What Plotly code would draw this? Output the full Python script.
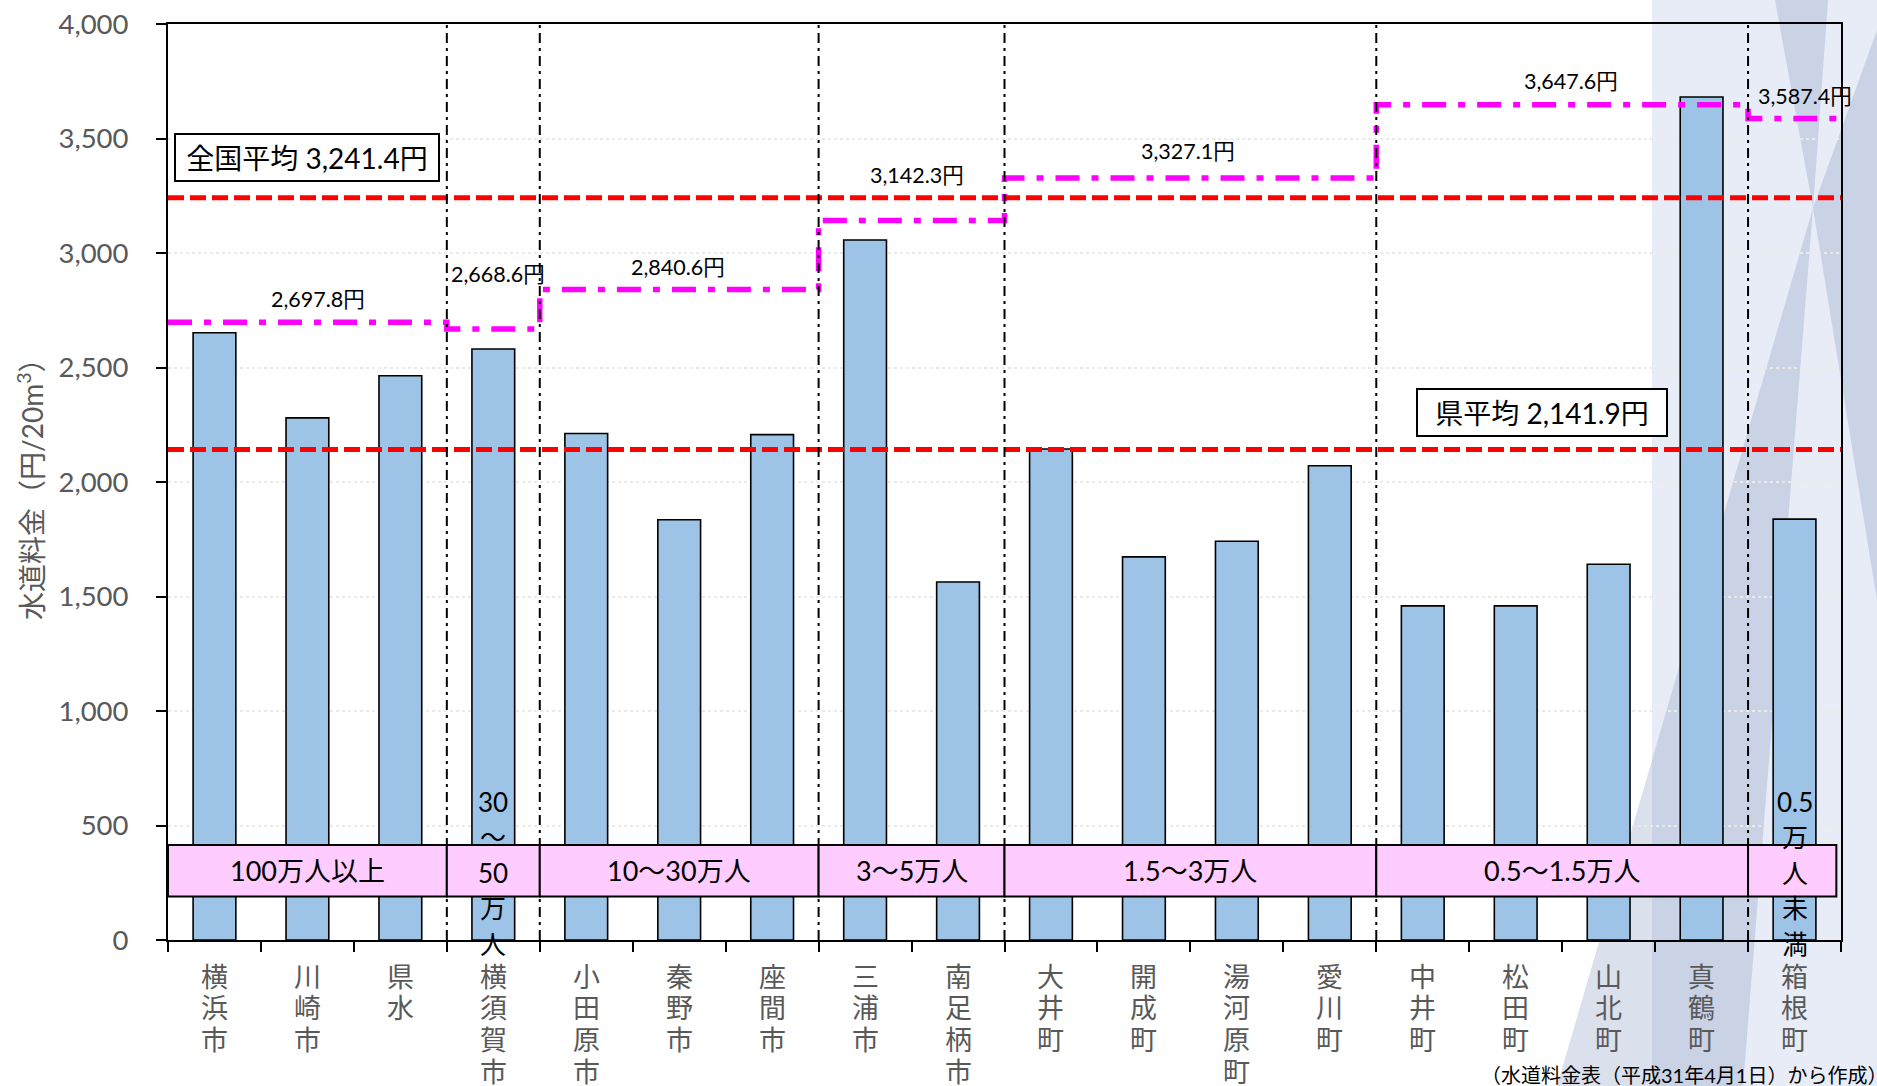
import re
import plotly.graph_objects as go

# ---- data -------------------------------------------------------------
municipalities = ["横浜市", "川崎市", "県水", "横須賀市", "小田原市", "秦野市", "座間市",
                  "三浦市", "南足柄市", "大井町", "開成町", "湯河原町", "愛川町",
                  "中井町", "松田町", "山北町", "真鶴町", "箱根町"]
water_fee = [2652, 2280, 2464, 2581, 2212, 1835, 2207,
             3057, 1563, 2144, 1673, 1741, 2071,
             1459, 1459, 1641, 3681, 1838]

pop_groups = ["100万人以上", "30～50万人", "10～30万人", "3～5万人",
              "1.5～3万人", "0.5～1.5万人", "0.5万人未満"]
group_sizes = [3, 1, 3, 2, 4, 4, 1]
group_avg = [2697.8, 2668.6, 2840.6, 3142.3, 3327.1, 3647.6, 3587.4]

national_avg = 3241.4
pref_avg = 2141.9

y_ticks = [0, 500, 1000, 1500, 2000, 2500, 3000, 3500, 4000]

# ---- geometry helpers -------------------------------------------------
W, H = 1877, 1086
ML, MR, MT, MB = 168, 36, 24, 146
PW, PH = W - ML - MR, H - MT - MB
FONT = "Lato, 'Noto Sans CJK JP', sans-serif"
GRAY = "#595959"


def px(x):
    return (x - ML) / PW


def py(y):
    return (H - MB - y) / PH


n = len(municipalities)
x_pos = list(range(n))

# group boundaries on the numeric x axis
bounds = [-0.5]
for s in group_sizes:
    bounds.append(bounds[-1] + s)

fig = go.Figure()

# bars
fig.add_trace(go.Bar(
    x=x_pos, y=water_fee,
    marker=dict(color="#9DC3E6", line=dict(color="black", width=1.6)),
    width=0.46, showlegend=False, hoverinfo="skip",
))

# group averages as a stepped dash-dot line
step_x = bounds[:]
step_y = group_avg + [group_avg[-1]]
fig.add_trace(go.Scatter(
    x=step_x, y=step_y, mode="lines", line_shape="hv",
    line=dict(color="#FF00FF", width=5.5, dash="24px,12px,7px,12px"),
    showlegend=False, hoverinfo="skip",
))

# national / prefectural averages
for val in (national_avg, pref_avg):
    fig.add_trace(go.Scatter(
        x=[-0.5, 17.5], y=[val, val], mode="lines",
        line=dict(color="#FF0000", width=5, dash="16px,6px"),
        showlegend=False, hoverinfo="skip",
    ))

shapes = []

# slide background decoration on the right
def poly(points, color):
    d = "M " + " L ".join(f"{px(a):.5f},{py(b):.5f}" for a, b in points) + " Z"
    return dict(type="path", xref="paper", yref="paper", path=d,
                fillcolor=color, line=dict(width=0), layer="below")

shapes.append(poly([(1652, 0), (W, 0), (W, H), (1652, H)], "#E8ECF6"))
shade = "rgba(110,130,185,0.25)"
shapes.append(poly([(1775, 0), (1828, 0), (1813, 208)], shade))
shapes.append(poly([(1813, 208), (1557, H), (1743, H)], shade))
shapes.append(poly([(1813, 208), (W, 30), (W, 600)], shade))

# dividers between population groups
for b in bounds[1:-1]:
    shapes.append(dict(type="line", xref="x", yref="y", x0=b, x1=b, y0=0, y1=4000,
                       line=dict(color="black", width=2, dash="10px,5px,3px,5px"),
                       layer="above"))

# population band boxes
band_lo, band_hi = 190, 415
for i in range(len(pop_groups)):
    x0, x1 = bounds[i], bounds[i + 1]
    if i == len(pop_groups) - 1:
        x1 = 17.45
    shapes.append(dict(type="rect", xref="x", yref="y", x0=x0, x1=x1,
                       y0=band_lo, y1=band_hi, fillcolor="#FFCCFF",
                       line=dict(color="black", width=2), layer="above"))

annotations = []
band_mid = (band_lo + band_hi) / 2
for i, name in enumerate(pop_groups):
    cx = (bounds[i] + bounds[i + 1]) / 2
    if group_sizes[i] > 1:
        annotations.append(dict(x=cx, y=band_mid, xref="x", yref="y", text=name,
                                showarrow=False, font=dict(family=FONT, size=27, color="black")))
    else:
        parts = re.findall(r"[0-9.]+|.", name)
        mid = (len(parts) - 1) / 2
        for k, p in enumerate(parts):
            annotations.append(dict(x=cx, y=band_mid, xref="x", yref="y", text=p,
                                    showarrow=False, yshift=(mid - k) * 35.5 - 2,
                                    font=dict(family=FONT, size=26, color="black")))

# group-average value labels
label_x = [1.11, 3.05, 4.99, 7.56, 10.47, 14.59, 17.11]
label_dy = [23, 55, 23, 45, 27, 24, 22]
for v, lx, dy in zip(group_avg, label_x, label_dy):
    annotations.append(dict(x=lx, y=v, xref="x", yref="y", text=f"{v:,.1f}円",
                            showarrow=False, yshift=dy,
                            font=dict(family=FONT, size=21.5, color="black")))

# boxed average labels
annotations.append(dict(x=1.0, y=3419, xref="x", yref="y",
                        text=f"全国平均 {national_avg:,.1f}円", showarrow=False,
                        bgcolor="white", bordercolor="black", borderwidth=2, borderpad=4,
                        width=254, height=37,
                        font=dict(family=FONT, size=28, color="black")))
annotations.append(dict(x=14.28, y=2303, xref="x", yref="y",
                        text=f"県平均 {pref_avg:,.1f}円", showarrow=False,
                        bgcolor="white", bordercolor="black", borderwidth=2, borderpad=4,
                        width=240, height=37,
                        font=dict(family=FONT, size=28, color="black")))

# municipality names, written vertically one character per line
for i, name in enumerate(municipalities):
    for k, ch in enumerate(name):
        annotations.append(dict(x=i, y=0, xref="x", yref="paper", text=ch,
                                showarrow=False, yanchor="middle",
                                yshift=-(36 + k * 31.7),
                                font=dict(family=FONT, size=27, color=GRAY)))

# y axis title
annotations.append(dict(x=0, y=0.5, xref="paper", yref="paper", xshift=-138,
                        xanchor="center", yanchor="middle",
                        text="水道料金（円/20m<sup>3</sup>）", textangle=-90, showarrow=False,
                        font=dict(family=FONT, size=28, color=GRAY)))

# source note
annotations.append(dict(x=1, y=0, xref="paper", yref="paper", xanchor="right",
                        yanchor="middle", xshift=MR + 12, yshift=-135,
                        text="（水道料金表（平成31年4月1日）から作成）", showarrow=False,
                        font=dict(family=FONT, size=20, color="black")))

fig.update_layout(
    width=W, height=H,
    margin=dict(l=ML, r=MR, t=MT, b=MB, pad=0, autoexpand=False),
    paper_bgcolor="white", plot_bgcolor="rgba(0,0,0,0)",
    shapes=shapes, annotations=annotations,
    bargap=0.54,
    xaxis=dict(
        range=[-0.5, 17.5], tickmode="array", tickvals=x_pos,
        ticks="", showticklabels=False, showgrid=False, zeroline=False, automargin=False,
        showline=True, linecolor="black", linewidth=2, mirror=True,
        minor=dict(tick0=-0.5, dtick=1, ticks="outside", ticklen=10,
                   tickwidth=2, tickcolor="black", showgrid=False),
    ),
    yaxis=dict(
        range=[0, 4000], tickmode="array", tickvals=y_ticks,
        ticktext=[f"{t:,}" for t in y_ticks],
        ticks="outside", ticklen=10, tickwidth=2, tickcolor="black",
        showgrid=True, gridcolor="#EAEAEA", griddash="dot", gridwidth=2,
        zeroline=False, automargin=False,
        showline=True, linecolor="black", linewidth=2, mirror=True,
        tickfont=dict(family=FONT, size=27.5, color=GRAY),
        ticklabelstandoff=22,
    ),
)

fig.write_html("out.html")
